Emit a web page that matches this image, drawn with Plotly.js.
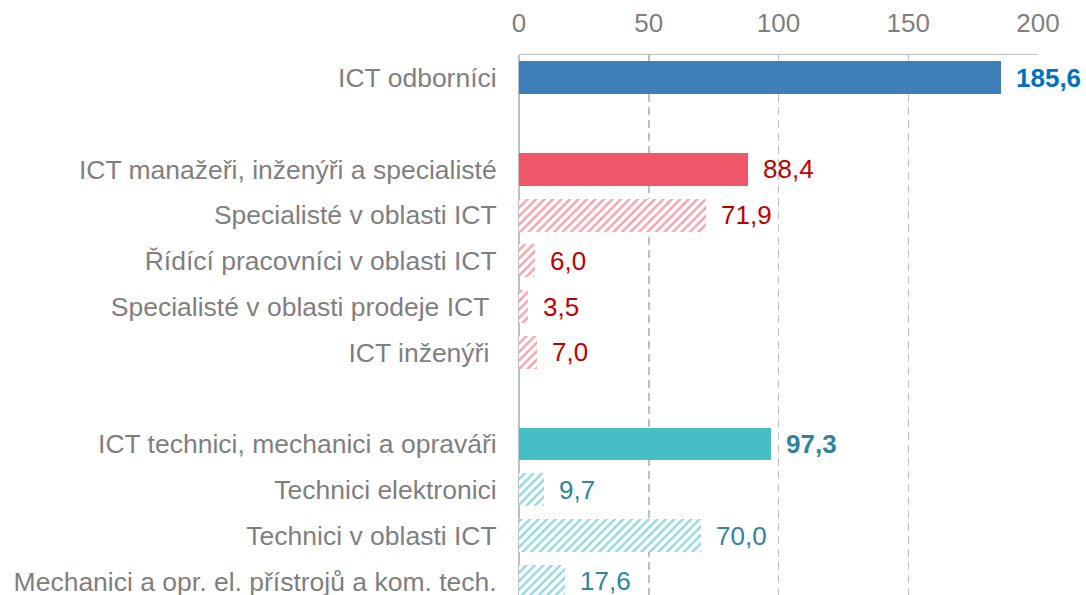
<!DOCTYPE html>
<html><head><meta charset="utf-8">
<script src="https://cdn.plot.ly/plotly-3.0.1.min.js"></script>
<style>html,body{margin:0;padding:0;background:#fff}#c{width:1086px;height:595px}</style>
</head><body><div id="c"></div>
<script>
const catTotal = ['ICT odborníci'];
const valTotal = [185.6];
const catMgr = ['ICT manažeři, inženýři a specialisté'];
const valMgr = [88.4];
const catMgrSub = ['Specialisté v oblasti ICT', 'Řídící pracovníci v oblasti ICT', 'Specialisté v oblasti prodeje ICT\u00a0', 'ICT inženýři\u00a0'];
const valMgrSub = [71.9, 6.0, 3.5, 7.0];
const catTech = ['ICT technici, mechanici a opraváři'];
const valTech = [97.3];
const catTechSub = ['Technici elektronici', 'Technici v oblasti ICT', 'Mechanici a opr. el. přístrojů a kom. tech.'];
const valTechSub = [9.7, 70.0, 17.6];
const xTicks = [0, 50, 100, 150, 200];

// row order with blank gap rows between groups
const groups = [[catTotal, valTotal], null, [catMgr, valMgr], [catMgrSub, valMgrSub], null, [catTech, valTech], [catTechSub, valTechSub]];
let pos = 0; const posOf = [];
const tickvals = [], ticktext = [];
groups.forEach((g) => {
  if (g === null) { pos += 1; posOf.push(null); return; }
  const ps = [];
  g[0].forEach((c) => { ps.push(pos); tickvals.push(pos); ticktext.push(c); pos += 1; });
  posOf.push(ps);
});
const fmt = v => v.toFixed(1).replace('.', ',');

const BLUE = '#3F7FB9', RED = '#F0566A', TEAL = '#46BEC5';
const W = 0.72;
function bar(gi, color, pattern) {
  const g = groups[gi];
  const t = {type: 'bar', orientation: 'h', x: g[1], y: posOf[gi], width: W,
    marker: {color: color, line: {width: 0}}, hoverinfo: 'x+y', showlegend: false};
  if (pattern) t.marker.pattern = {shape: '/', fgcolor: pattern, bgcolor: '#ffffff', size: 6, solidity: 0.4, fillmode: 'replace'};
  return t;
}
const traces = [
  bar(0, BLUE),
  bar(2, RED),
  bar(3, '#ffffff', '#F7A0AA'),
  bar(5, TEAL),
  bar(6, '#ffffff', '#8FD8DD')
];

const FONT = 'Liberation Sans, Arial, sans-serif';
const annSpec = [[0, '#0070C0', true], [2, '#C00000', false], [3, '#C00000', false], [5, '#31849B', true], [6, '#31849B', false]];
const annotations = [];
annSpec.forEach(([gi, col, bold]) => {
  const g = groups[gi];
  g[1].forEach((v, i) => {
    annotations.push({x: v, y: posOf[gi][i], xref: 'x', yref: 'y', text: bold ? '<b>' + fmt(v) + '</b>' : fmt(v),
      showarrow: false, xanchor: 'left', yanchor: 'middle', xshift: 13,
      font: {family: FONT, size: 26, color: col}});
  });
});

const layout = {
  width: 1086, height: 595,
  margin: {l: 519, r: 48, t: 55, b: 0},
  paper_bgcolor: '#fff', plot_bgcolor: '#fff',
  font: {family: FONT, color: '#7F7F7F'},
  bargap: 0,
  xaxis: {side: 'top', range: [0, 200], tickvals: xTicks, ticktext: xTicks.map(String),
    tickfont: {size: 26, color: '#7F7F7F'}, showgrid: true, gridcolor: '#BFBFBF', gridwidth: 1.5, griddash: '8px,5px',
    zeroline: true, zerolinecolor: '#BFBFBF', zerolinewidth: 2,
    showline: true, linecolor: '#BFBFBF', linewidth: 1.5, ticks: 'outside', ticklen: 11, tickcolor: 'rgba(0,0,0,0)', fixedrange: true},
  yaxis: {range: [11.3, -0.5], tickvals: tickvals, ticktext: ticktext, tickfont: {size: 26.5, color: '#7F7F7F'},
    ticklabeloverflow: 'allow',
    showgrid: false, zeroline: false, showline: false, ticks: 'outside', ticklen: 16, tickcolor: 'rgba(0,0,0,0)', fixedrange: true},
  annotations: annotations
};
Plotly.newPlot('c', traces, layout, {displayModeBar: false, staticPlot: true});
</script></body></html>
